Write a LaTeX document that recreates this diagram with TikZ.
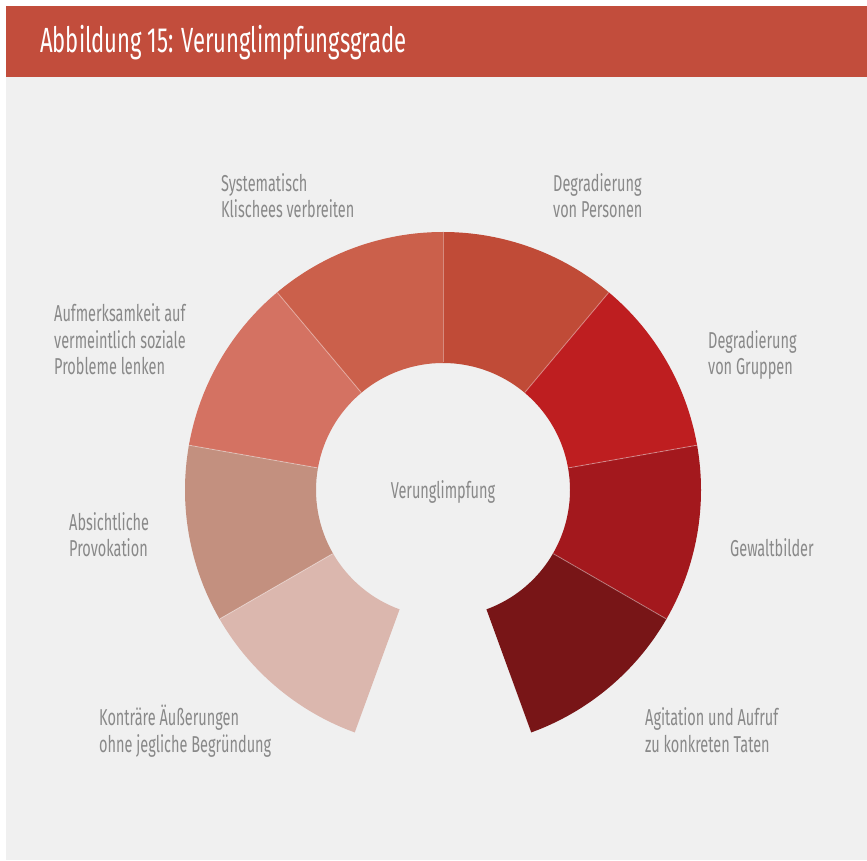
\documentclass[tikz,border=0pt]{standalone}
\usepackage{fontspec}
\setmainfont{Fira Sans}[FakeStretch=0.63]
\definecolor{bg}{HTML}{F0F0F0}
\definecolor{titlebar}{HTML}{C24D3C}
\definecolor{txt}{HTML}{898989}
\definecolor{cA}{HTML}{C04B37}
\definecolor{cB}{HTML}{BE1E20}
\definecolor{cC}{HTML}{A3181D}
\definecolor{cD}{HTML}{781517}
\definecolor{cE}{HTML}{CB604B}
\definecolor{cF}{HTML}{D47262}
\definecolor{cG}{HTML}{C3907F}
\definecolor{cH}{HTML}{DBB7AE}
\tikzset{
  lbl/.style={anchor=base west, inner sep=0pt, align=left, text=txt,
    font=\fontsize{23}{26.5}\selectfont},
  sep/.style={draw=white, draw opacity=0.35, line width=0.9pt}
}
\newcommand{\seg}[3]{%
  \fill[#3] (#1:258) arc[start angle=#1, end angle=#2, radius=258]
    -- (#2:127) arc[start angle=#2, end angle=#1, radius=127] -- cycle;}
\begin{document}
\begin{tikzpicture}[x=1pt,y=1pt]
\useasboundingbox (0,0) rectangle (867,860);
\fill[white] (0,0) rectangle (867,860);
\fill[bg] (6,0) rectangle (867,854);
\fill[titlebar] (6,783) rectangle (867,854);
\node[anchor=base west, inner sep=0pt, text=white,
  font=\fontsize{35}{40}\selectfont] (title) at (40,807) {Abbildung 15: Verunglimpfungsgrade};
\begin{scope}[shift={(443,370)}]
  \seg{90}{50}{cA}
  \seg{50}{10}{cB}
  \seg{10}{-30}{cC}
  \seg{-30}{-70}{cD}
  \seg{90}{130}{cE}
  \seg{130}{170}{cF}
  \seg{170}{210}{cG}
  \seg{210}{250}{cH}
  \foreach \a in {90,50,10,-30,130,170,210}
    \draw[sep] (\a:127.5) -- (\a:257.5);
  \node[anchor=base, inner sep=0pt, text=txt, font=\fontsize{23}{26.5}\selectfont] (center) at (0,-9) {Verunglimpfung};
\end{scope}
\node[lbl] (l1) at (221,642) {Systematisch\\Klischees verbreiten};
\node[lbl] (l2) at (553,642) {Degradierung\\von Personen};
\node[lbl] (l3) at (54,485) {Aufmerksamkeit auf\\vermeintlich soziale\\Probleme lenken};
\node[lbl] (l4) at (708,485) {Degradierung\\von Gruppen};
\node[lbl] (l5) at (69,303) {Absichtliche\\Provokation};
\node[lbl] (l6) at (730,303) {Gewaltbilder};
\node[lbl] (l7) at (99,108) {Konträre Äußerungen\\ohne jegliche Begründung};
\node[lbl] (l8) at (645,108) {Agitation und Aufruf\\zu konkreten Taten};
\end{tikzpicture}
\end{document}
